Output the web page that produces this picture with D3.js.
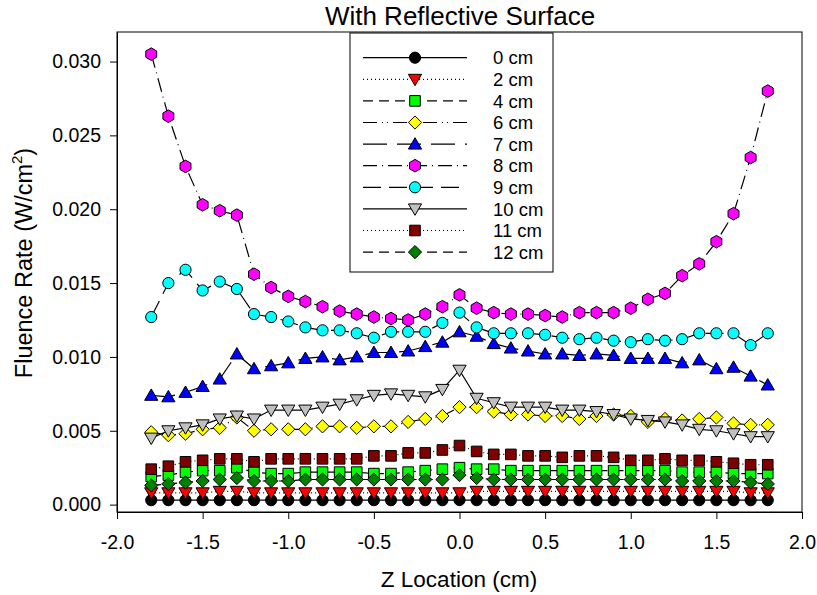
<!DOCTYPE html>
<html>
<head>
<meta charset="utf-8">
<script src="https://cdn.jsdelivr.net/npm/d3@7"></script>
<style>
  body { margin: 0; background: #fff; }
  svg { display: block; font-family: Arial, "Liberation Sans", sans-serif; }
</style>
</head>
<body>
<svg id="chart" width="817" height="595"></svg>
<script>
const zLocations = [-1.8,-1.7,-1.6,-1.5,-1.4,-1.3,-1.2,-1.1,-1.0,-0.9,-0.8,-0.7,-0.6,-0.5,-0.4,-0.3,-0.2,-0.1,0.0,0.1,0.2,0.3,0.4,0.5,0.6,0.7,0.8,0.9,1.0,1.1,1.2,1.3,1.4,1.5,1.6,1.7,1.8];

const cm0  = [0.0003,0.0003,0.0003,0.0003,0.0003,0.0003,0.0003,0.0003,0.0003,0.0003,0.0003,0.0003,0.0003,0.0003,0.0003,0.0003,0.0003,0.0003,0.00031,0.0003,0.0003,0.0003,0.0003,0.0003,0.0003,0.0003,0.0003,0.0003,0.0003,0.0003,0.0003,0.0003,0.0003,0.0003,0.0003,0.0003,0.0003];
const cm2  = [0.0008,0.0008,0.0008,0.0008,0.0009,0.0009,0.0008,0.0008,0.0008,0.0008,0.0008,0.0008,0.0008,0.0008,0.0008,0.0008,0.0008,0.0008,0.0008,0.0009,0.0009,0.0009,0.0009,0.0009,0.0009,0.0009,0.0009,0.0009,0.0009,0.0009,0.0009,0.0009,0.0009,0.0009,0.0009,0.0008,0.0008];
const cm4  = [0.0019,0.0020,0.0022,0.0023,0.0023,0.0025,0.0022,0.0021,0.0021,0.0022,0.0022,0.0022,0.0022,0.0021,0.0021,0.0022,0.0023,0.0024,0.0025,0.0024,0.0024,0.0023,0.0023,0.0023,0.0023,0.0023,0.0023,0.0023,0.0023,0.0023,0.0023,0.0022,0.0022,0.0022,0.0021,0.0021,0.0021];
const cm6  = [0.0049,0.0047,0.0048,0.0051,0.0052,0.0059,0.0050,0.0051,0.0051,0.0051,0.0053,0.0053,0.0052,0.0053,0.0053,0.0056,0.0058,0.0060,0.0066,0.0066,0.0063,0.0061,0.0061,0.0060,0.0060,0.0058,0.0060,0.0061,0.0060,0.0056,0.0058,0.0057,0.0058,0.0059,0.0055,0.0054,0.0054];
const cm7  = [0.0074,0.0073,0.0076,0.0080,0.0085,0.0102,0.0092,0.0094,0.0096,0.0099,0.0100,0.0098,0.0100,0.0103,0.0103,0.0104,0.0107,0.0110,0.0117,0.0114,0.0109,0.0106,0.0104,0.0102,0.0102,0.0101,0.0102,0.0101,0.0099,0.0099,0.0099,0.0096,0.0098,0.0092,0.0093,0.0087,0.0081];
const cm8  = [0.0305,0.0263,0.0229,0.0203,0.0199,0.0196,0.0156,0.0147,0.0141,0.01375,0.0134,0.0131,0.0129,0.0127,0.0126,0.0125,0.0129,0.0134,0.0142,0.0133,0.0130,0.0129,0.0129,0.0128,0.0127,0.0130,0.0130,0.0130,0.0133,0.0139,0.0143,0.0155,0.0163,0.0178,0.0197,0.0235,0.0280];
const cm9  = [0.0127,0.0150,0.0159,0.0145,0.0151,0.0146,0.0129,0.0127,0.0124,0.0120,0.0118,0.0118,0.0116,0.0113,0.0117,0.0117,0.0117,0.0123,0.0130,0.0120,0.0116,0.0116,0.0116,0.0115,0.0113,0.0112,0.0113,0.0111,0.0110,0.0112,0.0111,0.0112,0.0116,0.0116,0.0116,0.0108,0.0116];
const cm10 = [0.0045,0.0050,0.0052,0.0054,0.0058,0.0060,0.0058,0.0064,0.0064,0.0064,0.0066,0.0068,0.0071,0.0074,0.0075,0.0074,0.0073,0.0078,0.0091,0.0072,0.0069,0.0066,0.0066,0.0066,0.0064,0.0064,0.0063,0.0061,0.0058,0.0057,0.0056,0.0054,0.0051,0.0050,0.0048,0.0046,0.0046];
const cm11 = [0.0024,0.0026,0.0029,0.0030,0.0031,0.0031,0.0029,0.0031,0.0031,0.0031,0.0031,0.0031,0.0031,0.0033,0.0033,0.0035,0.0035,0.0037,0.0040,0.0036,0.0034,0.0034,0.0033,0.0033,0.0032,0.0033,0.0033,0.0032,0.0030,0.0030,0.0031,0.0030,0.0030,0.0029,0.0028,0.0027,0.0027];
const cm12 = [0.0013,0.0014,0.0015,0.0016,0.0017,0.0018,0.0016,0.0016,0.0016,0.0017,0.0017,0.0017,0.0017,0.0017,0.0017,0.0017,0.0017,0.0017,0.0020,0.0018,0.0017,0.0017,0.0017,0.0017,0.0017,0.0017,0.0017,0.0017,0.0017,0.0017,0.0017,0.0016,0.0016,0.0016,0.0016,0.0015,0.0014];

const seriesNames = ["0 cm","2 cm","4 cm","6 cm","7 cm","8 cm","9 cm","10 cm","11 cm","12 cm"];
const seriesValues = [cm0, cm2, cm4, cm6, cm7, cm8, cm9, cm10, cm11, cm12];
const xTicks = [-2.0,-1.5,-1.0,-0.5,0.0,0.5,1.0,1.5,2.0];
const yTicks = [0.000,0.005,0.010,0.015,0.020,0.025,0.030];

// styles
const fills   = ["#000000","#ff0000","#00ff00","#ffff00","#0000ff","#ff00ff","#00ffff","#c0c0c0","#800000","#008000"];
const shapes  = ["circle","triDown","square","diamond","triUp","hexagon","circle","triDown","square","diamond"];
const dashes  = [null,"1,3","10,6","14,5,1,4,1,5","24,10","14,5,1,5","18,8",null,"1,3","10,6"];

const svg = d3.select("#chart");
const L = 117, R = 802, T = 32, B = 512;
const x = d3.scaleLinear().domain([-2, 2]).range([L, R]);
const y = d3.scaleLinear().domain([-0.0005, 0.032]).range([B, T]);
const FONT = "Arial, 'Liberation Sans', sans-serif";

function markerPath(shape) {
  const p = d3.path();
  if (shape === "circle") { p.arc(0, 0, 5.6, 0, 2 * Math.PI); p.closePath(); }
  else if (shape === "square") { p.rect(-5.3, -5.3, 10.6, 10.6); }
  else if (shape === "diamond") { p.moveTo(0,-6.6); p.lineTo(6.6,0); p.lineTo(0,6.6); p.lineTo(-6.6,0); p.closePath(); }
  else if (shape === "triUp") { p.moveTo(0,-6.4); p.lineTo(6.6,5.0); p.lineTo(-6.6,5.0); p.closePath(); }
  else if (shape === "triDown") { p.moveTo(0,6.4); p.lineTo(6.6,-5.0); p.lineTo(-6.6,-5.0); p.closePath(); }
  else if (shape === "hexagon") {
    const r = 6.3;
    for (let k = 0; k < 6; k++) {
      const a = -Math.PI / 2 + k * Math.PI / 3;
      if (k === 0) p.moveTo(r * Math.cos(a), r * Math.sin(a)); else p.lineTo(r * Math.cos(a), r * Math.sin(a));
    }
    p.closePath();
  }
  return p.toString();
}

// frame
svg.append("rect").attr("x", L).attr("y", T).attr("width", R - L).attr("height", B - T)
  .attr("fill", "none").attr("stroke", "#000").attr("stroke-width", 1);

// axes
const fmtX = d => d3.format(".1f")(d).replace("\u2212", "-");
const xAxis = svg.append("g").attr("transform", `translate(0,${B})`)
  .call(d3.axisBottom(x).tickValues(xTicks).tickFormat(fmtX).tickSizeInner(7).tickSizeOuter(0).tickPadding(16));
xAxis.selectAll("text").attr("font-size", "19.5px").attr("fill", "#000").attr("font-family", FONT);
xAxis.select(".domain").attr("stroke", "#000");

const yAxis = svg.append("g").attr("transform", `translate(${L},0)`)
  .call(d3.axisLeft(y).tickValues(yTicks).tickFormat(d3.format(".3f")).tickSizeInner(7).tickSizeOuter(0).tickPadding(9));
yAxis.selectAll("text").attr("font-size", "19.5px").attr("fill", "#000").attr("font-family", FONT);
yAxis.select(".domain").attr("stroke", "#000");

// series
const line = d3.line().x((d, i) => x(zLocations[i])).y(d => y(d));
seriesValues.forEach((vals, s) => {
  const g = svg.append("g");
  g.append("path").datum(vals).attr("d", line).attr("fill", "none")
    .attr("stroke", "#000").attr("stroke-width", 1.2)
    .attr("stroke-dasharray", dashes[s]);
  g.selectAll("path.m").data(vals).enter().append("path").attr("class", "m")
    .attr("d", markerPath(shapes[s]))
    .attr("transform", (d, i) => `translate(${x(zLocations[i])},${y(d)})`)
    .attr("fill", fills[s]).attr("stroke", "#000").attr("stroke-width", 1);
});

// titles
svg.append("text").attr("x", 460).attr("y", 25).attr("text-anchor", "middle")
  .attr("font-size", "26px").text("With Reflective Surface");
svg.append("text").attr("x", 459).attr("y", 587).attr("text-anchor", "middle")
  .attr("font-size", "22.5px").text("Z Location (cm)");
const yl = svg.append("text").attr("transform", "translate(32,263) rotate(-90)")
  .attr("text-anchor", "middle").attr("font-size", "23.5px");
yl.append("tspan").text("Fluence Rate (W/cm");
yl.append("tspan").attr("font-size", "15px").attr("dy", "-10").text("2");
yl.append("tspan").attr("dy", "10").text(")");

// legend
const lg = svg.append("g");
lg.append("rect").attr("x", 350).attr("y", 33).attr("width", 203).attr("height", 239)
  .attr("fill", "#fff").attr("stroke", "#000").attr("stroke-width", 1);
seriesNames.forEach((name, s) => {
  const yy = 57.7 + s * 21.6;
  lg.append("line").attr("x1", 363).attr("x2", 467).attr("y1", yy).attr("y2", yy)
    .attr("stroke", "#000").attr("stroke-width", 1.2).attr("stroke-dasharray", dashes[s]);
  lg.append("path").attr("d", markerPath(shapes[s])).attr("transform", `translate(415,${yy})`)
    .attr("fill", fills[s]).attr("stroke", "#000").attr("stroke-width", 1);
  lg.append("text").attr("x", 493).attr("y", yy).attr("dy", "0.36em")
    .attr("font-size", "18.5px").text(name);
});
</script>
</body>
</html>
